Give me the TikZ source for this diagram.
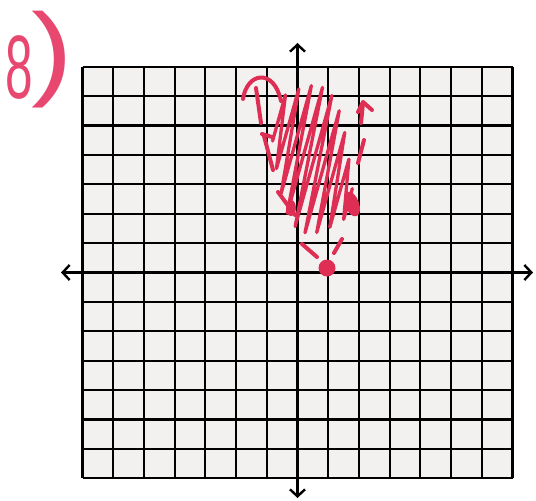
\documentclass[tikz,border=0pt]{standalone}
\usepackage{fontspec}
\newfontfamily\handfont{Liberation Sans}
\usetikzlibrary{arrows.meta}
\definecolor{inkred}{RGB}{222,46,84}
\definecolor{pinkink}{RGB}{232,72,112}
\definecolor{paper}{RGB}{243,241,239}
\begin{document}
\begin{tikzpicture}[x=1pt,y=-1pt,
  gridline/.style={line width=2.1pt,black},
  axisline/.style={line width=2.8pt,black,
    {Straight Barb[length=7pt,width=15pt,line width=2.4pt]}-{Straight Barb[length=7pt,width=15pt,line width=2.4pt]}},
  ink/.style={inkred,line width=4pt,line cap=round,line join=round},
  hatch/.style={inkred,line width=3.3pt,line cap=round,line join=round}]
\useasboundingbox (0,0) rectangle (536,501);
\fill[white] (0,0) rectangle (536,501);
% paper
\fill[paper] (82.5,66.7) rectangle (512.5,478.3);
% grid
\foreach \i in {0,...,14}{
  \draw[gridline] ({82.5+\i*30.714},66.7) -- ({82.5+\i*30.714},478.3);
}
\foreach \j in {0,...,14}{
  \draw[gridline] (82.5,{66.7+\j*29.4}) -- (512.5,{66.7+\j*29.4});
}
% axes
\coordinate (xl) at (61,272.5);
\coordinate (xr) at (533,272.5);
\coordinate (yt) at (297.5,43);
\coordinate (yb) at (297.5,498);
\draw[axisline] (xl) -- (xr);
\draw[axisline] (yb) -- (yt);
% label "8)"
\node[pinkink,inner sep=0,anchor=base west] (label) at (5,98)
  {{\handfont\fontsize{90}{90}\selectfont\scalebox{0.55}[1]{8}}\hspace{-1pt}%
   \raisebox{12pt}{\handfont\fontsize{104}{104}\selectfont\scalebox{1.2}[1]{)}}};
% hatching (zigzag shading)
\draw[hatch] (279,118)
  \foreach \k in {0,...,8}{
    -- ({279+69*\k/8 - 0.27*(24-8*\k/8+48*sin(180*\k/8))},{118+86*\k/8 + 0.963*(24-8*\k/8+48*sin(180*\k/8))})
    -- ({279+69*\k/8 + 0.27*(24-8*\k/8+48*sin(180*\k/8))},{118+86*\k/8 - 0.963*(24-8*\k/8+48*sin(180*\k/8))})
  };
% left boundary (dashed, arrow up)
\draw[ink] (243,99) .. controls (247,72) and (274,68) .. (281,101);
\draw[ink] (256,88) -- (261,123);
\draw[ink] (262,134) -- (272,137);
\draw[ink] (264,136) -- (273,170);
\draw[ink] (278,192) -- (295,215);
\fill[inkred] (291,208) ellipse (5 and 8);
\draw[ink] (302,244) -- (317,257);
% right boundary (dashed, arrow up)
\draw[ink] (358,112) -- (363,102) -- (372,110);
\draw[ink] (363,103) -- (361,123);
\draw[ink] (364,140) -- (358,163);
\fill[inkred,rotate around={20:(352,204)}] (352,204) ellipse (7 and 13);
\draw[ink] (342,239) -- (334,253);
% vertex point
\fill[inkred] (327,268) circle (8.5);
\end{tikzpicture}
\end{document}
